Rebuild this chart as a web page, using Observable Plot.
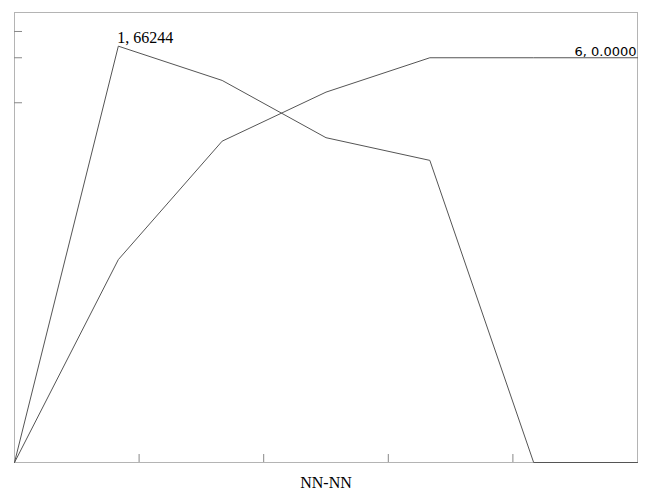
<!DOCTYPE html>
<html>
<head>
<meta charset="utf-8">
<script src="https://cdn.jsdelivr.net/npm/d3@7"></script>
<script src="https://cdn.jsdelivr.net/npm/@observablehq/plot@0.6"></script>
<style>
  html, body { margin: 0; padding: 0; background: #fff; }
</style>
</head>
<body>
<div id="chart"></div>
<script>
const xs = [0, 1, 2, 3, 4, 5, 6];
const seriesA = [0, 66244, 60790, 51680, 48070, 0, 0];
const seriesB = [0, 32280, 51130, 58930, 64400, 64400, 64400];
const xTicks = [1.2, 2.4, 3.6, 4.8];
const yTicks = [57240, 64400, 68580];
const xLabel = "NN-NN";
const peakLabel = "1, 66244";
const endLabel = "6, 0.0000";

const dataA = xs.map((x, i) => ({x, y: seriesA[i]}));
const dataB = xs.map((x, i) => ({x, y: seriesB[i]}));

const chart = Plot.plot({
  width: 670,
  height: 500,
  marginLeft: 14,
  marginRight: 33,
  marginTop: 12,
  marginBottom: 38,
  style: {fontFamily: "'Liberation Serif', serif", fontSize: "14px", background: "#fff", color: "#000"},
  x: {domain: [0, 6]},
  y: {domain: [0, 71600]},
  marks: [
    Plot.frame({stroke: "#b4b4b4"}),
    Plot.axisX(xTicks, {tickSize: -8, tickFormat: () => "", label: null, stroke: "#888"}),
    Plot.axisY(yTicks, {tickSize: -8, tickFormat: () => "", label: null, stroke: "#888"}),
    Plot.line(dataA, {x: "x", y: "y", stroke: "#555", strokeWidth: 1}),
    Plot.line(dataB, {x: "x", y: "y", stroke: "#555", strokeWidth: 1}),
    Plot.text([dataA[1]], {x: "x", y: "y", text: () => peakLabel, textAnchor: "start", lineAnchor: "bottom", dy: -3, dx: -1, fontSize: 16, fill: "#000"}),
    Plot.text([dataB[6]], {x: "x", y: "y", text: () => endLabel, textAnchor: "end", lineAnchor: "bottom", dy: -2, dx: -1, fontSize: 13, fontFamily: "'DejaVu Sans', sans-serif", fill: "#000"}),
    Plot.text([xLabel], {frameAnchor: "bottom", text: d => d, dy: 20, fontSize: 16, lineAnchor: "middle", fill: "#000"})
  ]
});
document.getElementById("chart").appendChild(chart);
</script>
</body>
</html>
